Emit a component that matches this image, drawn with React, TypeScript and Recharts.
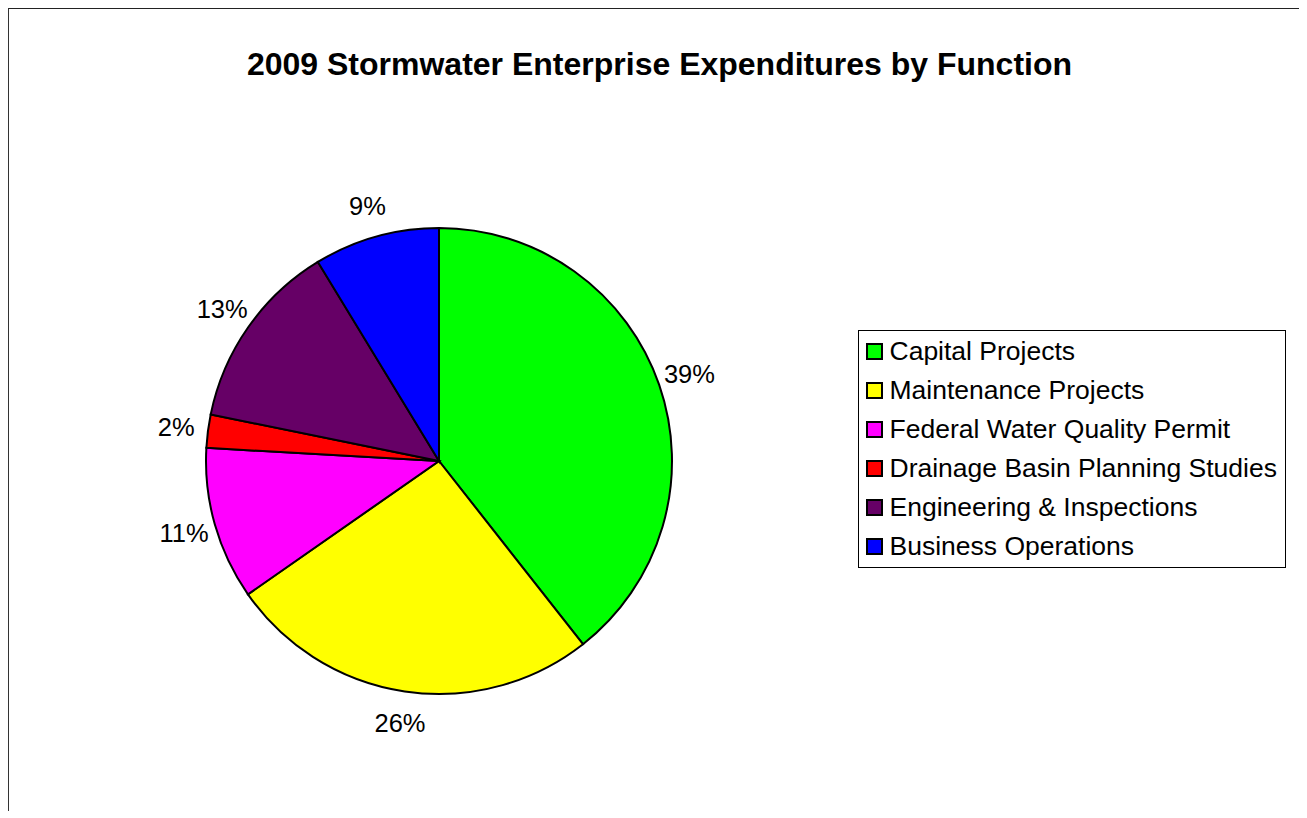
import { PieChart, Pie, Cell, Legend } from 'recharts';

const functions = [
    'Capital Projects',
    'Maintenance Projects',
    'Federal Water Quality Permit',
    'Drainage Basin Planning Studies',
    'Engineering & Inspections',
    'Business Operations',
];
const shares = [39.4, 25.9, 10.6, 2.3, 13.1, 8.7];
const shareLabels = ['39%', '26%', '11%', '2%', '13%', '9%'];
const sliceColors = ['#00FF00', '#FFFF00', '#FF00FF', '#FF0000', '#660066', '#0000FF'];

const data = functions.map((name, i) => ({ name, value: shares[i] }));

const FONT = '"Liberation Sans", Arial, sans-serif';
const RAD = Math.PI / 180;

interface SliceLabelProps {
    cx?: number;
    cy?: number;
    midAngle?: number;
    outerRadius?: number;
    index?: number;
}

const SliceLabel = ({ cx = 0, cy = 0, midAngle = 0, outerRadius = 0, index = 0 }: SliceLabelProps) => {
    const r = outerRadius + 32;
    const x = cx + r * Math.cos(-midAngle * RAD);
    const y = cy + r * Math.sin(-midAngle * RAD);
    return (
        <text
            x={x}
            y={y}
            textAnchor="middle"
            dominantBaseline="central"
            fill="#000"
            fontSize={25.5}
            fontFamily={FONT}
        >
            {shareLabels[index]}
        </text>
    );
};

const LegendBox = () => (
    <div
        style={{
            border: '1px solid #000',
            background: '#fff',
            width: 426,
            padding: '1px 0 1px 0',
            fontFamily: FONT,
            fontSize: 26.5,
            color: '#000',
        }}
    >
        {functions.map((name, i) => (
            <div key={name} style={{ display: 'flex', alignItems: 'center', height: 39 }}>
                <span
                    style={{
                        display: 'inline-block',
                        boxSizing: 'border-box',
                        width: 17,
                        height: 17,
                        marginLeft: 7,
                        marginRight: 7,
                        background: sliceColors[i],
                        border: '2px solid #000',
                    }}
                />
                <span style={{ whiteSpace: 'nowrap' }}>{name}</span>
            </div>
        ))}
    </div>
);

export default function App() {
    return (
        <div
            style={{
                position: 'relative',
                width: 1291,
                height: 802,
                borderTop: '1.5px solid #222',
                borderLeft: '1.5px solid #333',
                background: '#fff',
                fontFamily: FONT,
            }}
        >
            <div
                style={{
                    position: 'absolute',
                    left: 650.5,
                    top: 37.5,
                    transform: 'translateX(-50%)',
                    whiteSpace: 'nowrap',
                    fontWeight: 'bold',
                    fontSize: 32,
                    lineHeight: '34px',
                    color: '#000',
                }}
            >
                2009 Stormwater Enterprise Expenditures by Function
            </div>
            <PieChart width={1289} height={800} margin={{ top: 0, right: 0, bottom: 0, left: 0 }}>
                <Pie
                    data={data}
                    dataKey="value"
                    nameKey="name"
                    cx={430}
                    cy={452}
                    outerRadius={233}
                    startAngle={90}
                    endAngle={-270}
                    stroke="#000"
                    strokeWidth={2}
                    label={SliceLabel}
                    labelLine={false}
                    isAnimationActive={false}
                >
                    {data.map((d, i) => (
                        <Cell key={d.name} fill={sliceColors[i]} />
                    ))}
                </Pie>
                <Legend
                    content={<LegendBox />}
                    wrapperStyle={{ position: 'absolute', left: 848.5, top: 320.5, width: 'auto' }}
                />
            </PieChart>
        </div>
    );
}
